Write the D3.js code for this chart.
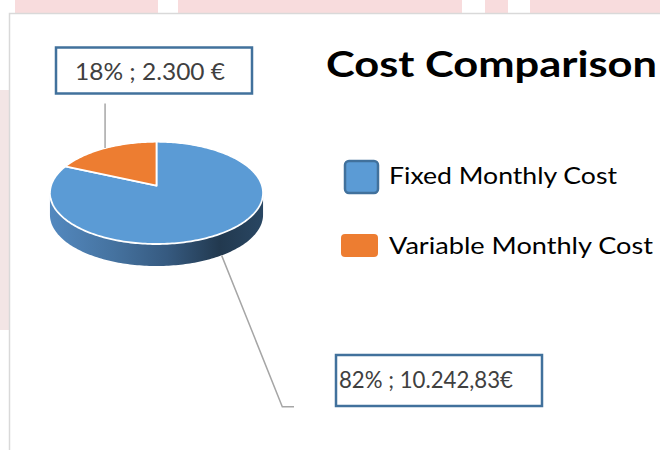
<!DOCTYPE html>
<html>
<head>
<meta charset="utf-8">
<script src="https://cdn.jsdelivr.net/npm/d3@7"></script>
<style>
  html, body { margin: 0; padding: 0; background: #fff; }
  svg { display: block; }
</style>
</head>
<body>
<svg id="chart" width="660" height="450"></svg>
<script>
// Cost Comparison - 3D pie (Excel style), drawn with d3

const categories = ["Fixed Monthly Cost", "Variable Monthly Cost"];
const values = [10242.83, 2300];
const labelTexts = ["82% ; 10.242,83€", "18% ; 2.300 €"];
const colors = ["#5b9bd5", "#ed7d31"];
const title = "Cost Comparison";

const svg = d3.select("#chart");

// ---------- background (blurred slide behind the chart) ----------
const bg = svg.append("g");
const pinkTop = [[15, 158], [178, 462], [485, 508], [530, 660]];
bg.selectAll("rect.top")
  .data(pinkTop)
  .join("rect")
  .attr("x", (d) => d[0]).attr("y", 0)
  .attr("width", (d) => d[1] - d[0]).attr("height", 13)
  .attr("fill", "#f8dcdd");
bg.append("rect").attr("x", 0).attr("y", 90).attr("width", 9).attr("height", 240).attr("fill", "#f3e5e5");

// chart area
svg.append("rect")
  .attr("x", 9.5).attr("y", 13.5).attr("width", 700).attr("height", 500)
  .attr("fill", "#fff").attr("stroke", "#d9d9d9").attr("stroke-width", 1.5);

// ---------- pie geometry (perspective-projected disc) ----------
const cx = 156.5, cy = 185.7, rx = 105.5, ry = 50.15, k = 0.14, depth = 22;
const proj = (a, dy = 0) => {
  const u = Math.sin(a), v = -Math.cos(a), w = 1 - k * v;
  return [cx + (rx * u) / w, cy + (ry * v) / w + dy];
};
const arcPts = (a0, a1, dy = 0) => {
  const n = Math.max(2, Math.ceil(Math.abs(a1 - a0) / 0.02));
  return d3.range(n + 1).map((i) => proj(a0 + ((a1 - a0) * i) / n, dy));
};

const pie = d3.pie().sort(null).startAngle(0).endAngle(2 * Math.PI);
const arcs = pie(values);

const defs = svg.append("defs");
const grad = defs.append("linearGradient").attr("id", "side").attr("gradientUnits", "userSpaceOnUse")
  .attr("x1", cx - rx).attr("x2", cx + rx).attr("y1", 0).attr("y2", 0);
[[0, "#5388be"], [0.3, "#45729f"], [0.55, "#365a80"], [0.8, "#22394f"], [1, "#294662"]].forEach(([o, c]) =>
  grad.append("stop").attr("offset", o).attr("stop-color", c));

// side wall: front half between the silhouette tangents
const tA = Math.acos(-k);
const line = d3.line();
const sideTop = arcPts(tA, 2 * Math.PI - tA);
const sideBot = arcPts(2 * Math.PI - tA, tA, depth);
svg.append("path")
  .attr("d", line(sideTop.concat(sideBot)) + "Z")
  .attr("fill", "url(#side)");

// top faces
const pieG = svg.append("g");
pieG.selectAll("path")
  .data(arcs)
  .join("path")
  .attr("d", (d) => line([[cx, cy]].concat(arcPts(d.startAngle, d.endAngle))) + "Z")
  .attr("fill", (d, i) => colors[i])
  .attr("stroke", "#fff")
  .attr("stroke-width", 1.8)
  .attr("stroke-linejoin", "round");

// ---------- data labels with leader lines ----------
const labelFont = "Lato, 'Open Sans', sans-serif";
const mid = (d) => (d.startAngle + d.endAngle) / 2;

// Fixed (82%) label - below right
const pF = proj(mid(arcs[0]), depth);
svg.append("polyline")
  .attr("points", [pF, [282.3, 406.7], [294, 406.7]].map((p) => p.join(",")).join(" "))
  .attr("fill", "none").attr("stroke", "#a6a6a6").attr("stroke-width", 1.5);
svg.append("rect")
  .attr("x", 336).attr("y", 355).attr("width", 206).attr("height", 51)
  .attr("fill", "#fff").attr("stroke", "#41719c").attr("stroke-width", 2.5);
svg.append("text")
  .attr("x", 339).attr("y", 388)
  .attr("font-family", labelFont).attr("font-size", 24).attr("fill", "#404040")
  .attr("textLength", 174).attr("lengthAdjust", "spacingAndGlyphs")
  .text(labelTexts[0]);

// Variable (18%) label - above
const pV = proj(mid(arcs[1]));
svg.append("line")
  .attr("x1", pV[0]).attr("y1", pV[1]).attr("x2", pV[0]).attr("y2", 103.5)
  .attr("stroke", "#a6a6a6").attr("stroke-width", 1.5);
svg.append("rect")
  .attr("x", 56).attr("y", 47.5).attr("width", 196).attr("height", 46)
  .attr("fill", "#fff").attr("stroke", "#41719c").attr("stroke-width", 2.5);
svg.append("text")
  .attr("x", 75).attr("y", 80)
  .attr("font-family", labelFont).attr("font-size", 24).attr("fill", "#404040")
  .attr("textLength", 150).attr("lengthAdjust", "spacingAndGlyphs")
  .text(labelTexts[1]);

// ---------- title ----------
svg.append("text")
  .attr("x", 326).attr("y", 77)
  .attr("font-family", labelFont).attr("font-weight", 700).attr("font-size", 37).attr("fill", "#000")
  .attr("textLength", 331).attr("lengthAdjust", "spacingAndGlyphs")
  .text(title);

// ---------- legend ----------
const legendRows = [
  { box: [345, 161, 33, 32], stroke: "#41719c", textW: 228, base: 183.5 },
  { box: [341, 234, 37, 23], stroke: null, textW: 264, base: 253.5 },
];
const leg = svg.append("g").selectAll("g").data(categories).join("g");
leg.append("rect")
  .attr("x", (d, i) => legendRows[i].box[0]).attr("y", (d, i) => legendRows[i].box[1])
  .attr("width", (d, i) => legendRows[i].box[2]).attr("height", (d, i) => legendRows[i].box[3])
  .attr("rx", 4)
  .attr("fill", (d, i) => colors[i])
  .attr("stroke", (d, i) => legendRows[i].stroke || "none")
  .attr("stroke-width", 2.5);
leg.append("text")
  .attr("x", 389).attr("y", (d, i) => legendRows[i].base)
  .attr("font-family", labelFont).attr("font-size", 24).attr("fill", "#000")
  .attr("textLength", (d, i) => legendRows[i].textW).attr("lengthAdjust", "spacingAndGlyphs")
  .text((d) => d);
</script>
</body>
</html>
